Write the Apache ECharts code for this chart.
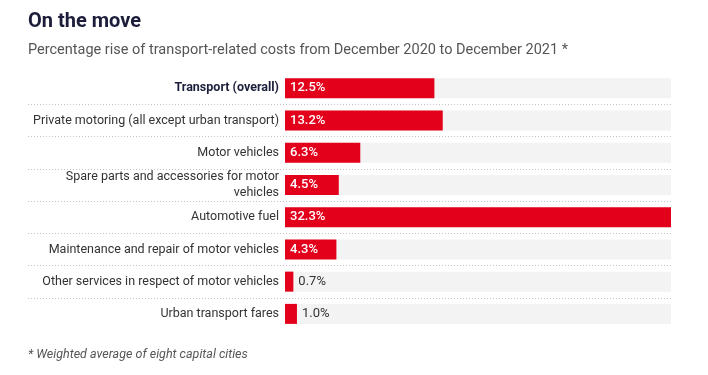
<!DOCTYPE html>
<html>
<head>
<meta charset="utf-8">
<script src="https://cdn.jsdelivr.net/npm/echarts@6/dist/echarts.min.js"></script>
<style>
  html, body { margin: 0; padding: 0; background: #fff; }
  #chart { width: 708px; height: 375px; }
</style>
</head>
<body>
<div id="chart"></div>
<script>
const categories = [
  "Transport (overall)",
  "Private motoring (all except urban transport)",
  "Motor vehicles",
  "Spare parts and accessories for motor\nvehicles",
  "Automotive fuel",
  "Maintenance and repair of motor vehicles",
  "Other services in respect of motor vehicles",
  "Urban transport fares"
];
const values = [12.5, 13.2, 6.3, 4.5, 32.3, 4.3, 0.7, 1.0];

const FONT = "Roboto";
const RED = "#e3001b";

document.addEventListener("DOMContentLoaded", function () {
  let chart = echarts.init(document.getElementById("chart"));

  let option = {
    animation: false,
    title: [
      {
        text: "On the move",
        left: 28, top: 12, padding: 0,
        textStyle: { fontFamily: FONT, fontSize: 20, fontWeight: "bold", color: "#1b1d3a" }
      },
      {
        text: "Percentage rise of transport-related costs from December 2020 to December 2021 *",
        left: 28, top: 43, padding: 0,
        textStyle: { fontFamily: FONT, fontSize: 14.5, fontWeight: "normal", color: "#555" }
      },
      {
        text: "* Weighted average of eight capital cities",
        left: 28, top: 348, padding: 0,
        textStyle: { fontFamily: FONT, fontSize: 12.5, fontStyle: "italic", fontWeight: "normal", color: "#555" }
      }
    ],
    grid: [
      { left: 285, right: 37, top: 72, bottom: 45 },
      { left: 28, right: 37, top: 72, bottom: 45 }
    ],
    xAxis: [
      { type: "value", gridIndex: 0, min: 0, max: 32.3, show: false },
      { type: "value", gridIndex: 1, min: 0, max: 1, show: false }
    ],
    yAxis: [
      {
        type: "category",
        gridIndex: 0,
        inverse: true,
        data: categories,
        axisLine: { show: false },
        axisTick: { show: false },
        splitLine: { show: false },
        axisLabel: {
          margin: 6,
          fontFamily: FONT,
          fontSize: 12.5,
          color: "#333",
          lineHeight: 16,
          formatter: function (v, i) {
            return i === 0 ? "{b|" + v + "}" : v;
          },
          rich: {
            b: { fontFamily: FONT, fontSize: 12.5, fontWeight: "bold", color: "#1b1d3a" }
          }
        }
      },
      {
        type: "category",
        gridIndex: 1,
        inverse: true,
        data: categories,
        axisLine: { show: false },
        axisTick: { show: false },
        axisLabel: { show: false },
        splitLine: {
          show: true,
          showMinLine: false,
          showMaxLine: false,
          lineStyle: { color: "#c4c4c4", type: [1, 2], width: 1 }
        }
      }
    ],
    series: [
      {
        type: "bar",
        xAxisIndex: 0,
        yAxisIndex: 0,
        barWidth: 20,
        showBackground: true,
        backgroundStyle: { color: "#f3f3f3" },
        itemStyle: { color: RED },
        data: values.map(v => ({
          value: v,
          label: v < 2
            ? { show: true, position: "right", distance: 5, color: "#333", fontWeight: "normal" }
            : { show: true, position: "insideLeft", distance: 5, color: "#fff", fontWeight: 500 }
        })),
        label: {
          fontFamily: FONT,
          fontSize: 13,
          formatter: p => p.value.toFixed(1) + "%"
        }
      }
    ]
  };
  chart.setOption(option);
});
</script>
</body>
</html>
